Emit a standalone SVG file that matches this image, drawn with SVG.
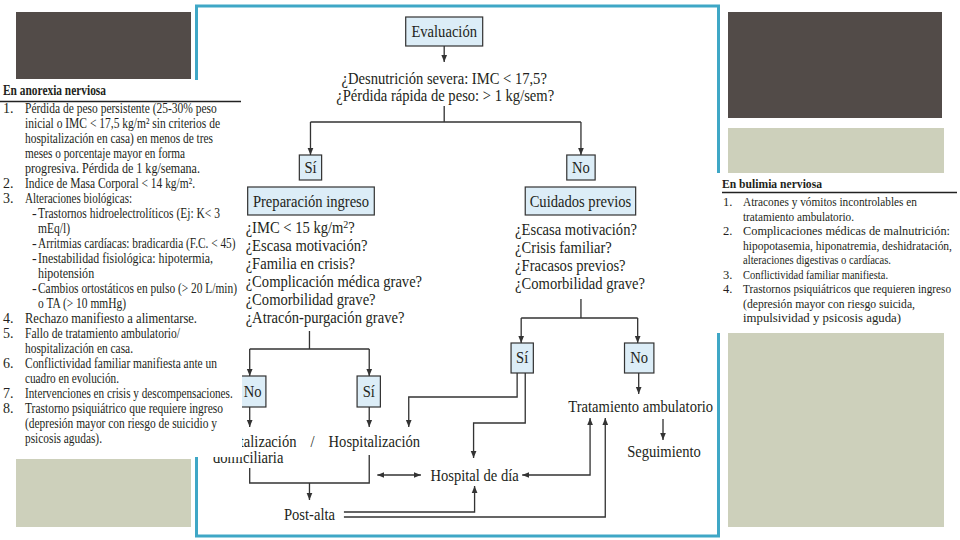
<svg xmlns="http://www.w3.org/2000/svg" width="960" height="540" viewBox="0 0 960 540">
<defs>
<style>
.t{font-family:"Liberation Serif","Times New Roman",serif;font-size:16px;fill:#231f20}
.p{font-family:"Liberation Serif","Times New Roman",serif;font-size:14px;fill:#231f20}
.q{font-family:"Liberation Serif","Times New Roman",serif;font-size:12.5px;fill:#231f20}
.h{font-weight:bold}
.box{fill:#dcedf7;stroke:#333;stroke-width:1.2}
.ln{fill:none;stroke:#333;stroke-width:1.3}
</style>
<marker id="ah" viewBox="0 0 8 8" refX="8" refY="4" markerWidth="7" markerHeight="7" markerUnits="userSpaceOnUse" orient="auto-start-reverse">
<path d="M0,0.8 L8,4 L0,7.2 z" fill="#333"/>
</marker>
</defs>
<rect width="960" height="540" fill="#fff"/>
<g id="decor">
<rect x="16" y="12" width="175" height="67" fill="#524b48"/>
<rect x="16" y="459" width="175" height="68" fill="#cdd0bb"/>
<rect x="728" y="12" width="214" height="106" fill="#524b48"/>
<rect x="728" y="128" width="216" height="399" fill="#cdd0bb"/>
<rect x="196.5" y="6" width="522" height="530" fill="#fff" stroke="#3fa7c6" stroke-width="3"/>
</g>
<g id="flowchart" transform="matrix(1.013 0 0 1 -2.535 0)">
<g id="connectors">
<path class="ln" d="M441,46 V62" marker-end="url(#ah)"/>
<path class="ln" d="M441,106 V122 M309,122 H576"/>
<path class="ln" d="M309,122 V155" marker-end="url(#ah)"/>
<path class="ln" d="M576,122 V155" marker-end="url(#ah)"/>
<path class="ln" d="M308,331 V349 M249,349 H367"/>
<path class="ln" d="M249,349 V376" marker-end="url(#ah)"/>
<path class="ln" d="M367,349 V376" marker-end="url(#ah)"/>
<path class="ln" d="M249,407 V427" marker-end="url(#ah)"/>
<path class="ln" d="M367,407 V427" marker-end="url(#ah)"/>
<path class="ln" d="M249,468 V483 H367 V455"/>
<path class="ln" d="M308,483 V500" marker-end="url(#ah)"/>
<path class="ln" d="M342,512 H471 V486" marker-end="url(#ah)"/>
<path class="ln" d="M342,517 H600 V418" marker-end="url(#ah)"/>
<path class="ln" d="M375,475 H418" marker-start="url(#ah)" marker-end="url(#ah)"/>
<path class="ln" d="M585,418 V475 H518" marker-start="url(#ah)" marker-end="url(#ah)"/>
<path class="ln" d="M576,299 V318 M517,318 H632"/>
<path class="ln" d="M517,318 V343" marker-end="url(#ah)"/>
<path class="ln" d="M632,318 V343" marker-end="url(#ah)"/>
<path class="ln" d="M513,373 V397 H406 V427" marker-end="url(#ah)"/>
<path class="ln" d="M521,373 V423 H470 V458" marker-end="url(#ah)"/>
<path class="ln" d="M633,373 V394" marker-end="url(#ah)"/>
<path class="ln" d="M657,419 V440" marker-end="url(#ah)"/>
</g>
<g id="n-evaluacion">
<rect class="box" x="403" y="17" width="76" height="29"/>
<text class="t" text-anchor="middle" transform="translate(441,37) scale(0.9,1)">Evaluación</text>
</g>
<g id="n-q1">
<text class="t" text-anchor="middle" transform="translate(441,84) scale(0.9,1)">¿Desnutrición severa: IMC &lt; 17,5?</text>
<text class="t" text-anchor="middle" transform="translate(442,101) scale(0.9,1)">¿Pérdida rápida de peso: &gt; 1 kg/sem?</text>
</g>
<g id="n-si1">
<rect class="box" x="298" y="155" width="22" height="25"/>
<text class="t" text-anchor="middle" transform="translate(309,173) scale(0.9,1)">Sí</text>
</g>
<g id="n-no1">
<rect class="box" x="562" y="155" width="28" height="25"/>
<text class="t" text-anchor="middle" transform="translate(576,173) scale(0.9,1)">No</text>
</g>
<g id="n-preparacion">
<rect class="box" x="247" y="187" width="125" height="28"/>
<text class="t" text-anchor="middle" transform="translate(309.5,206.5) scale(0.9,1)">Preparación ingreso</text>
</g>
<g id="n-cuidados">
<rect class="box" x="521" y="187" width="109" height="28"/>
<text class="t" text-anchor="middle" transform="translate(575.5,206.5) scale(0.9,1)">Cuidados previos</text>
</g>
<g id="n-q-prep">
<text class="t" transform="translate(245,233) scale(0.9,1)">¿IMC &lt; 15 kg/m<tspan font-size="11" dy="-5">2</tspan><tspan dy="5">?</tspan></text>
<text class="t" transform="translate(245,251) scale(0.9,1)">¿Escasa motivación?</text>
<text class="t" transform="translate(245,269) scale(0.9,1)">¿Familia en crisis?</text>
<text class="t" transform="translate(245,287) scale(0.9,1)">¿Complicación médica grave?</text>
<text class="t" transform="translate(245,305) scale(0.9,1)">¿Comorbilidad grave?</text>
<text class="t" transform="translate(245,323) scale(0.9,1)">¿Atracón-purgación grave?</text>
</g>
<g id="n-q-cuid">
<text class="t" transform="translate(511,235) scale(0.9,1)">¿Escasa motivación?</text>
<text class="t" transform="translate(511,253) scale(0.9,1)">¿Crisis familiar?</text>
<text class="t" transform="translate(511,271) scale(0.9,1)">¿Fracasos previos?</text>
<text class="t" transform="translate(511,289) scale(0.9,1)">¿Comorbilidad grave?</text>
</g>
<g id="n-no2">
<rect class="box" x="237" y="376" width="28" height="31"/>
<text class="t" text-anchor="middle" transform="translate(252,397) scale(0.9,1)">No</text>
</g>
<g id="n-si2">
<rect class="box" x="355" y="376" width="23" height="31"/>
<text class="t" text-anchor="middle" transform="translate(366.5,397) scale(0.9,1)">Sí</text>
</g>
<g id="n-si3">
<rect class="box" x="507" y="343" width="22" height="30"/>
<text class="t" text-anchor="middle" transform="translate(518,363) scale(0.9,1)">Sí</text>
</g>
<g id="n-no3">
<rect class="box" x="619" y="343" width="29" height="30"/>
<text class="t" text-anchor="middle" transform="translate(633.5,363) scale(0.9,1)">No</text>
</g>
<g id="n-hosp-dom">
<text class="t" text-anchor="middle" transform="translate(250,447) scale(0.9,1)">Hospitalización</text>
<text class="t" text-anchor="middle" transform="translate(247.5,463) scale(0.9,1)">domiciliaria</text>
</g>
<g id="n-slash">
<text class="t" text-anchor="middle" transform="translate(311,447) scale(0.9,1)">/</text>
</g>
<g id="n-hosp">
<text class="t" text-anchor="middle" transform="translate(372,447) scale(0.9,1)">Hospitalización</text>
</g>
<g id="n-hospdia">
<text class="t" text-anchor="middle" transform="translate(471,481) scale(0.9,1)">Hospital de día</text>
</g>
<g id="n-postalta">
<text class="t" text-anchor="middle" transform="translate(308,520) scale(0.9,1)">Post-alta</text>
</g>
<g id="n-tratamiento">
<text class="t" text-anchor="middle" transform="translate(635,412) scale(0.9,1)">Tratamiento ambulatorio</text>
</g>
<g id="n-seguimiento">
<text class="t" text-anchor="middle" transform="translate(658,457) scale(0.9,1)">Seguimiento</text>
</g>
</g>
<g id="panel-anorexia">
<rect x="0" y="80" width="242" height="377" fill="#fff"/>
<text class="p h" x="3" y="95" textLength="103" lengthAdjust="spacingAndGlyphs">En anorexia nerviosa</text>
<line x1="0" y1="101.5" x2="241" y2="101.5" stroke="#222" stroke-width="1.3"/>
<text class="p" x="3" y="113">1.</text>
<text class="p" transform="translate(25,113) scale(0.822,1)">Pérdida de peso persistente (25-30% peso</text>
<text class="p" x="25" y="128" textLength="195" lengthAdjust="spacingAndGlyphs">inicial o IMC &lt; 17,5 kg/m² sin criterios de</text>
<text class="p" x="25" y="143" textLength="188" lengthAdjust="spacingAndGlyphs">hospitalización en casa) en menos de tres</text>
<text class="p" x="25" y="158" textLength="160" lengthAdjust="spacingAndGlyphs">meses o porcentaje mayor en forma</text>
<text class="p" x="25" y="173" textLength="175" lengthAdjust="spacingAndGlyphs">progresiva. Pérdida de 1 kg/semana.</text>
<text class="p" x="3" y="188">2.</text>
<text class="p" x="25" y="188" textLength="170" lengthAdjust="spacingAndGlyphs">Indice de Masa Corporal &lt; 14 kg/m².</text>
<text class="p" x="3" y="203">3.</text>
<text class="p" x="25" y="203" textLength="107" lengthAdjust="spacingAndGlyphs">Alteraciones biológicas:</text>
<text class="p" x="32" y="218">-</text>
<text class="p" x="38" y="218" textLength="182" lengthAdjust="spacingAndGlyphs">Trastornos hidroelectrolíticos (Ej: K&lt; 3</text>
<text class="p" x="38" y="233" textLength="32" lengthAdjust="spacingAndGlyphs">mEq/l)</text>
<text class="p" x="32" y="248">-</text>
<text class="p" transform="translate(38,248) scale(0.81,1)">Arritmias cardíacas: bradicardia (F.C. &lt; 45)</text>
<text class="p" x="32" y="263">-</text>
<text class="p" x="38" y="263" textLength="175" lengthAdjust="spacingAndGlyphs">Inestabilidad fisiológica: hipotermia,</text>
<text class="p" transform="translate(38,278) scale(0.86,1)">hipotensión</text>
<text class="p" x="32" y="293">-</text>
<text class="p" transform="translate(38,293) scale(0.815,1)">Cambios ortostáticos en pulso (&gt; 20 L/min)</text>
<text class="p" x="38" y="308" textLength="88" lengthAdjust="spacingAndGlyphs">o TA (&gt; 10 mmHg)</text>
<text class="p" x="3" y="323">4.</text>
<text class="p" x="25" y="323" textLength="172" lengthAdjust="spacingAndGlyphs">Rechazo manifiesto a alimentarse.</text>
<text class="p" x="3" y="338">5.</text>
<text class="p" x="25" y="338" textLength="155" lengthAdjust="spacingAndGlyphs">Fallo de tratamiento ambulatorio/</text>
<text class="p" x="25" y="353" textLength="108" lengthAdjust="spacingAndGlyphs">hospitalización en casa.</text>
<text class="p" x="3" y="368">6.</text>
<text class="p" x="25" y="368" textLength="192" lengthAdjust="spacingAndGlyphs">Conflictividad familiar manifiesta ante un</text>
<text class="p" x="25" y="383" textLength="94" lengthAdjust="spacingAndGlyphs">cuadro en evolución.</text>
<text class="p" x="3" y="398">7.</text>
<text class="p" transform="translate(25,398) scale(0.8,1)">Intervenciones en crisis y descompensaciones.</text>
<text class="p" x="3" y="413">8.</text>
<text class="p" x="25" y="413" textLength="198" lengthAdjust="spacingAndGlyphs">Trastorno psiquiátrico que requiere ingreso</text>
<text class="p" x="25" y="428" textLength="192" lengthAdjust="spacingAndGlyphs">(depresión mayor con riesgo de suicidio y</text>
<text class="p" x="25" y="443" textLength="77" lengthAdjust="spacingAndGlyphs">psicosis agudas).</text>
</g>
<g id="panel-bulimia">
<rect x="716" y="173" width="244" height="160" fill="#fff"/>
<text class="q h" x="722" y="188" textLength="100" lengthAdjust="spacingAndGlyphs">En bulimia nerviosa</text>
<line x1="722" y1="192.5" x2="957" y2="192.5" stroke="#222" stroke-width="1.3"/>
<text class="q" x="723" y="206">1.</text>
<text class="q" x="743" y="206" textLength="174" lengthAdjust="spacingAndGlyphs">Atracones y vómitos incontrolables en</text>
<text class="q" x="743" y="220.5" textLength="111" lengthAdjust="spacingAndGlyphs">tratamiento ambulatorio.</text>
<text class="q" x="723" y="235">2.</text>
<text class="q" x="743" y="235" textLength="207" lengthAdjust="spacingAndGlyphs">Complicaciones médicas de malnutrición:</text>
<text class="q" transform="translate(743,249.5) scale(0.92,1)">hipopotasemia, hiponatremia, deshidratación,</text>
<text class="q" x="743" y="264" textLength="148" lengthAdjust="spacingAndGlyphs">alteraciones digestivas o cardíacas.</text>
<text class="q" x="723" y="278.5">3.</text>
<text class="q" x="743" y="278.5" textLength="145" lengthAdjust="spacingAndGlyphs">Conflictividad familiar manifiesta.</text>
<text class="q" x="723" y="293">4.</text>
<text class="q" transform="translate(743,293) scale(0.9,1)">Trastornos psiquiátricos que requieren ingreso</text>
<text class="q" x="743" y="307.5" textLength="172" lengthAdjust="spacingAndGlyphs">(depresión mayor con riesgo suicida,</text>
<text class="q" x="743" y="322" textLength="158" lengthAdjust="spacingAndGlyphs">impulsividad y psicosis aguda)</text>
</g>
</svg>
